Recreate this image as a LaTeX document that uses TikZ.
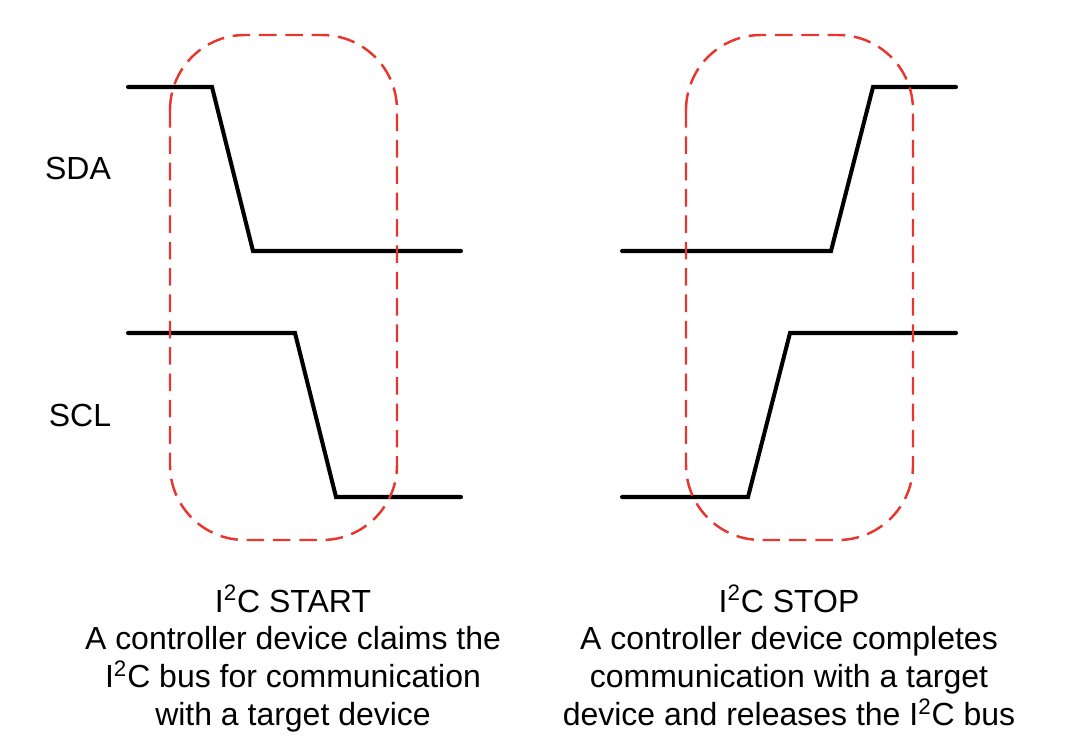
\documentclass[tikz,border=0pt]{standalone}
\usepackage{fontspec}
\setmainfont{Liberation Sans}
\usetikzlibrary{positioning}
\definecolor{framered}{HTML}{E8352E}

\begin{document}
\begin{tikzpicture}[
    x=0.02cm, y=-0.02cm,
    signal/.style={line width=2.3pt, black, line cap=round, line join=miter},
    window/.style={draw=framered, line width=1.4pt, dash pattern=on 10pt off 5pt, rounded corners=1.5cm},
    linelabel/.style={font=\fontsize{18.2}{21.6}\selectfont, inner sep=0pt},
    caption/.style={font=\fontsize{18.2}{21.6}\selectfont, align=center, inner sep=0pt, anchor=north}
]
    \useasboundingbox (0,0) rectangle (1070,746);

    % signal names
    \node[linelabel] (sda) at (78,168) {SDA};
    \node[linelabel] (scl) at (80,415) {SCL};

    % start condition
    \draw[signal] (128,87) -- (212,87) -- (253,251) -- (461,251);
    \draw[signal] (128,333) -- (295,333) -- (336,497) -- (461,497);
    \draw[window] (170,35) rectangle (397,540);

    % stop condition
    \draw[signal] (622,251) -- (831,251) -- (873,87) -- (956,87);
    \draw[signal] (622,497) -- (748,497) -- (790,333) -- (956,333);
    \draw[window] (686,35) rectangle (913,540);

    % captions
    \node[caption] (startcap) at (293,585) {I\textsuperscript{2}C START\\A controller device claims the\\I\textsuperscript{2}C bus for communication\\with a target device};
    \node[caption] (stopcap) at (789,585) {I\textsuperscript{2}C STOP\\A controller device completes\\communication with a target\\device and releases the I\textsuperscript{2}C bus};
\end{tikzpicture}
\end{document}
